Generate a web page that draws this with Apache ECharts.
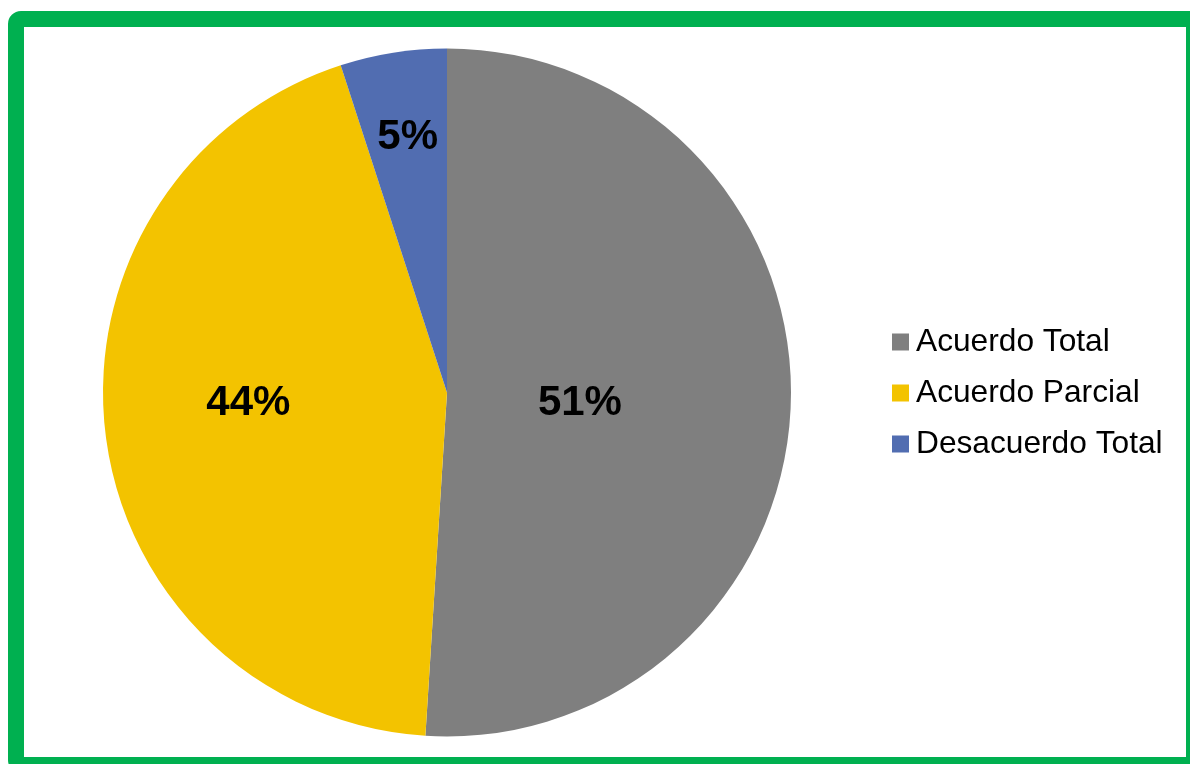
<!DOCTYPE html>
<html>
<head>
<meta charset="utf-8">
<script src="https://cdn.jsdelivr.net/npm/echarts@6/dist/echarts.min.js"></script>
<style>
    html, body {margin: 0; padding: 0; background: #ffffff;}
    #chart {width: 1190px; height: 764px;}
</style>
</head>
<body>
<div id="chart"></div>
<script>
// datos de la encuesta
var categorias = ['Acuerdo Total', 'Acuerdo Parcial', 'Desacuerdo Total'];
var valores = [51, 44, 5];
var colores = ['#7F7F7F', '#F3C300', '#516DB1'];
// desplazamiento de cada etiqueta respecto a la posicion por defecto
var desplazamientos = [[-42, 5], [-25, -11], [-12, -82]];

var datos = [];
for (var i = 0; i < categorias.length; i++) {
    datos.push({
        name: categorias[i],
        value: valores[i],
        itemStyle: {color: colores[i]},
        label: {offset: desplazamientos[i]}
    });
}

var myChart = echarts.init(document.getElementById('chart'));
var option = {
    animation: false,
    backgroundColor: '#ffffff',
    textStyle: {fontFamily: '"Liberation Sans", Arial, sans-serif'},
    graphic: [{
        type: 'rect',
        z: 100,
        shape: {x: 16, y: 19, width: 1178, height: 746, r: 5},
        style: {fill: 'none', stroke: '#00B050', lineWidth: 16}
    }],
    legend: {
        orient: 'vertical',
        left: 887,
        top: 321,
        itemWidth: 17,
        itemHeight: 17,
        itemGap: 19,
        icon: 'rect',
        textStyle: {
            fontSize: 31.7,
            lineHeight: 31,
            color: '#000000',
            padding: [0, 0, 0, 2]
        },
        data: categorias
    },
    series: [{
        type: 'pie',
        center: [447, 392.5],
        radius: 344,
        startAngle: 90,
        clockwise: true,
        silent: true,
        label: {
            show: true,
            position: 'inside',
            formatter: '{c}%',
            fontSize: 42,
            fontWeight: 'bold',
            color: '#000000'
        },
        labelLine: {show: false},
        data: datos
    }]
};
myChart.setOption(option);
</script>
</body>
</html>
